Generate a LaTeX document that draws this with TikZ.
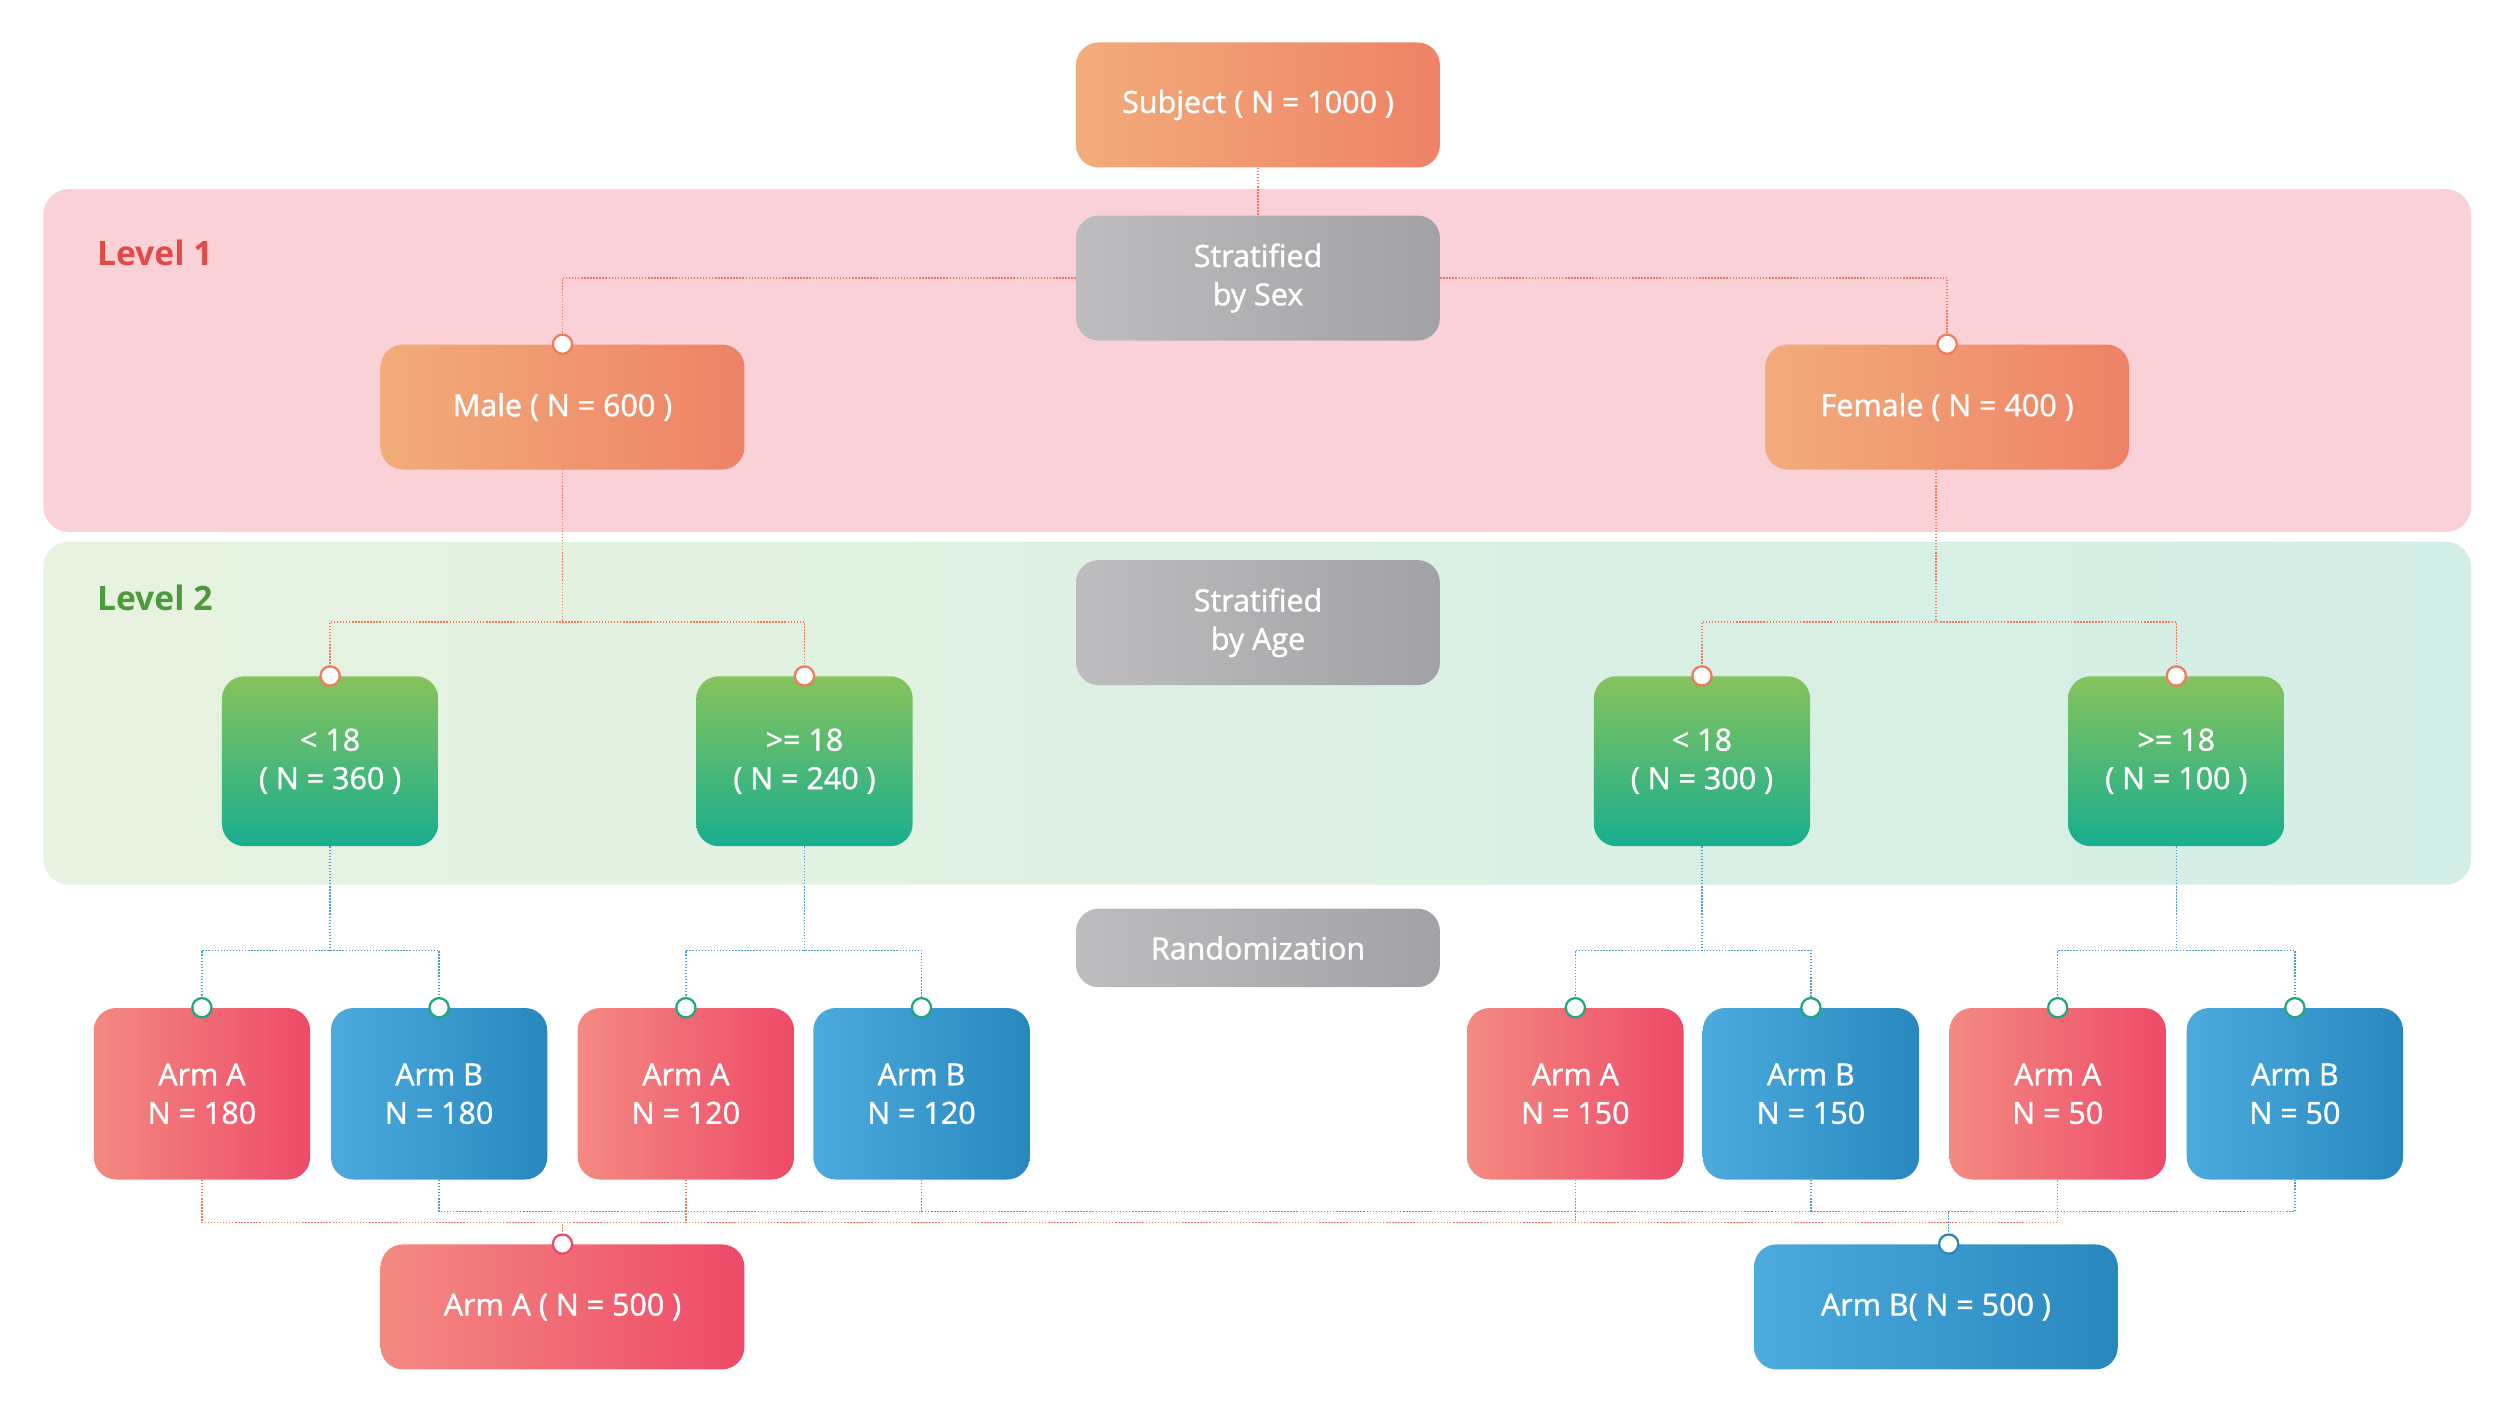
\documentclass[tikz,border=0pt]{standalone}
\usepackage{fontspec}
\setmainfont{Open Sans}
\usetikzlibrary{positioning}
\definecolor{OrangeL}{HTML}{F2AC7A}
\definecolor{OrangeR}{HTML}{EE8266}
\definecolor{GrayL}{HTML}{BDBDBF}
\definecolor{GrayR}{HTML}{A2A2A6}
\definecolor{GreenT}{HTML}{86C35C}
\definecolor{GreenB}{HTML}{18AE8E}
\definecolor{RedL}{HTML}{F38A82}
\definecolor{RedR}{HTML}{EE4A68}
\definecolor{BlueL}{HTML}{4CAADD}
\definecolor{BlueR}{HTML}{2888BE}
\definecolor{PinkBand}{HTML}{FAD1D6}
\definecolor{GreenBandL}{HTML}{E8F2E0}
\definecolor{GreenBandR}{HTML}{D3EEE6}
\definecolor{DotOrange}{HTML}{F07A5A}
\definecolor{DotBlue}{HTML}{4A9CCC}
\definecolor{DotGreen}{HTML}{1FA87A}
\definecolor{LevelRed}{HTML}{E24A4A}
\definecolor{LevelGreen}{HTML}{4C9A3C}

\tikzset{
	box/.style={rounded corners=14pt, inner sep=0pt, text=white, align=center,
		font=\fontsize{19}{24}\selectfont\addfontfeature{FakeBold=1.3}},
	wide/.style={box, minimum width=227pt, minimum height=78pt},
	orangebox/.style={wide, left color=OrangeL, right color=OrangeR},
	graybox/.style={wide, left color=GrayL, right color=GrayR},
	agebox/.style={box, minimum width=135pt, minimum height=106pt, top color=GreenT, bottom color=GreenB},
	armA/.style={box, minimum width=135pt, minimum height=107pt, left color=RedL, right color=RedR},
	armB/.style={box, minimum width=135pt, minimum height=107pt, left color=BlueL, right color=BlueR},
	link/.style={densely dotted, line width=0.9pt},
	knob/.style={circle, draw, fill=white, line width=1.4pt, minimum size=12pt, inner sep=0pt},
}

\begin{document}
\begin{tikzpicture}[x=1pt,y=1pt,yscale=-1]
	\useasboundingbox (0,0) rectangle (1560,891);

	% bands
	\fill[PinkBand, rounded corners=16pt] (27,118) rectangle (1542,332);
	\shade[left color=GreenBandL, right color=GreenBandR, rounded corners=16pt] (27,338) rectangle (1542,552);
	\node[anchor=west, text=LevelRed, font=\fontsize{21}{25}\selectfont\bfseries] (lvl1) at (57,158) {Level 1};
	\node[anchor=west, text=LevelGreen, font=\fontsize{21}{25}\selectfont\bfseries] (lvl2) at (57,373) {Level 2};

	% top level
	\node[orangebox] (subject) at (785,65.5) {Subject ( N = 1000 )};
	\node[graybox] (bysex) at (785,173.5) {Stratified\\by Sex};
	\node[orangebox] (male) at (351,254) {Male ( N = 600 )};
	\node[orangebox] (female) at (1215,254) {Female ( N = 400 )};
	\node[graybox] (byage) at (785,388.5) {Stratified\\by Age};
	\node[graybox, minimum height=49pt] (random) at (785,591.5) {Randomization};

	% age groups
	\node[agebox] (maleyoung) at (206,475) {< 18\\( N = 360 )};
	\node[agebox] (maleold) at (502,475) {>= 18\\( N = 240 )};
	\node[agebox] (femyoung) at (1062,475) {< 18\\( N = 300 )};
	\node[agebox] (femold) at (1358,475) {>= 18\\( N = 100 )};

	% arms
	\node[armA] (a1) at (126,682.5) {Arm A\\N = 180};
	\node[armB] (b1) at (274,682.5) {Arm B\\N = 180};
	\node[armA] (a2) at (428,682.5) {Arm A\\N = 120};
	\node[armB] (b2) at (575,682.5) {Arm B\\N = 120};
	\node[armA] (a3) at (983,682.5) {Arm A\\N = 150};
	\node[armB] (b3) at (1130,682.5) {Arm B\\N = 150};
	\node[armA] (a4) at (1284,682.5) {Arm A\\N = 50};
	\node[armB] (b4) at (1432,682.5) {Arm B\\N = 50};

	% totals
	\node[armA, minimum width=227pt, minimum height=78pt] (totalA) at (351,815.5) {Arm A ( N = 500 )};
	\node[armB, minimum width=227pt, minimum height=78pt] (totalB) at (1208,815.5) {Arm B( N = 500 )};

	% junctions
	\coordinate (malejoin) at (351,388);
	\coordinate (femjoin) at (1208,388);
	\coordinate (armjoin) at (0,593);
	\coordinate (redjoin) at (0,763);
	\coordinate (bluejoin) at (0,756);

	% level 1 links
	\draw[link, DotOrange] (subject) -- (bysex);
	\draw[link, DotOrange] (bysex.west) -| (male.north);
	\draw[link, DotOrange] (bysex.east) -| (female.north);

	% level 2 links
	\draw[link, DotOrange] (male.south) -- (malejoin);
	\draw[link, DotOrange] (maleyoung.north) |- (malejoin) -| (maleold.north);
	\draw[link, DotOrange] (femjoin |- female.south) -- (femjoin);
	\draw[link, DotOrange] (femyoung.north) |- (femjoin) -| (femold.north);

	% randomization links
	\foreach \g/\a/\b in {maleyoung/a1/b1, maleold/a2/b2, femyoung/a3/b3, femold/a4/b4} {
		\draw[link, DotBlue] (\g.south) -- (\g.south |- armjoin);
		\draw[link, DotBlue] (\a.north) |- (\g.south |- armjoin) -| (\b.north);
	}

	% pooling links
	\draw[link, DotOrange] (a1.south) |- (a4.south |- redjoin) -- (a4.south);
	\foreach \a in {a2, a3}
		\draw[link, DotOrange] (\a.south) -- (\a.south |- redjoin);
	\draw[link, DotOrange] (totalA.north) -- (totalA.north |- redjoin);
	\draw[link, DotBlue] (b1.south) |- (b4.south |- bluejoin) -- (b4.south);
	\foreach \b in {b2, b3}
		\draw[link, DotBlue] (\b.south) -- (\b.south |- bluejoin);
	\draw[link, DotBlue] ([xshift=8pt]totalB.north) -- ([xshift=8pt]totalB.north |- bluejoin);

	% knobs
	\foreach \n in {male, female, maleyoung, maleold, femyoung, femold}
		\node[knob, draw=DotOrange] at (\n.north) {};
	\foreach \n in {a1, b1, a2, b2, a3, b3, a4, b4}
		\node[knob, draw=DotGreen] at (\n.north) {};
	\node[knob, draw=RedR] at (totalA.north) {};
	\node[knob, draw=BlueR] at ([xshift=8pt]totalB.north) {};
\end{tikzpicture}
\end{document}
